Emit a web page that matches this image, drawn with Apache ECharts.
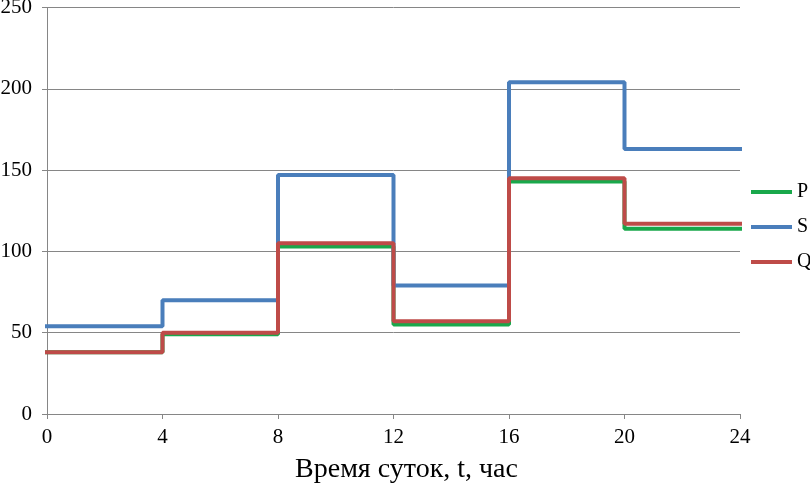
<!DOCTYPE html>
<html><head><meta charset="utf-8">
<script src="https://cdn.jsdelivr.net/npm/echarts@6/dist/echarts.min.js"></script>
<style>html,body{margin:0;padding:0;background:#fff}#c{width:810px;height:485px}</style>
</head><body><div id="c"></div>
<script>
const hours = [0, 4, 8, 12, 16, 20, 24];
const P = [38, 49, 103, 55, 143, 114, 114];
const S = [54, 70, 147, 79, 204, 163, 163];
const Q = [38, 50, 105, 57, 145, 117, 117];
const xTitle = 'Время суток, t, час';

const font = 'Liberation Serif, Times New Roman, serif';
const pair = arr => hours.map((h, i) => [h, arr[i]]);
const mk = (name, data, color) => ({
  name, type: 'line', step: 'end', data: pair(data), showSymbol: false,
  lineStyle: { color, width: 4, cap: 'square' }, itemStyle: { color }, z: 2
});
const chart = echarts.init(document.getElementById('c'), null, { renderer: 'canvas' });
chart.setOption({
  animation: false,
  backgroundColor: '#fff',
  grid: { left: 47, right: 70, top: 7.5, bottom: 71, containLabel: false, outerBoundsMode: 'none' },
  xAxis: {
    type: 'value', min: 0, max: 24, interval: 4,
    name: xTitle, nameLocation: 'middle', nameGap: 42,
    nameTextStyle: { fontFamily: font, fontSize: 28, color: '#000', padding: [0, 0, 0, 26] },
    axisLine: { show: true, lineStyle: { color: '#868686', width: 1 } },
    axisTick: { show: true, length: 5, lineStyle: { color: '#868686' } },
    axisLabel: { fontFamily: font, fontSize: 21, color: '#000', margin: 13 },
    splitLine: { show: false }
  },
  yAxis: {
    type: 'value', min: 0, max: 250, interval: 50,
    axisLine: { show: true, lineStyle: { color: '#868686', width: 1 } },
    axisTick: { show: true, length: 5, lineStyle: { color: '#868686' } },
    axisLabel: { fontFamily: font, fontSize: 21, color: '#000', margin: 15 },
    splitLine: { show: true, lineStyle: { color: '#868686', width: 1 } }
  },
  legend: {
    orient: 'vertical', left: 751, top: 182, padding: 0,
    itemWidth: 41, itemHeight: 4, itemGap: 15,
    icon: 'rect',
    textStyle: { fontFamily: font, fontSize: 20, color: '#000' },
    data: ['P', 'S', 'Q']
  },
  series: [mk('P', P, '#19a84b'), mk('S', S, '#4a7ebb'), mk('Q', Q, '#be4b48')]
});
</script></body></html>
